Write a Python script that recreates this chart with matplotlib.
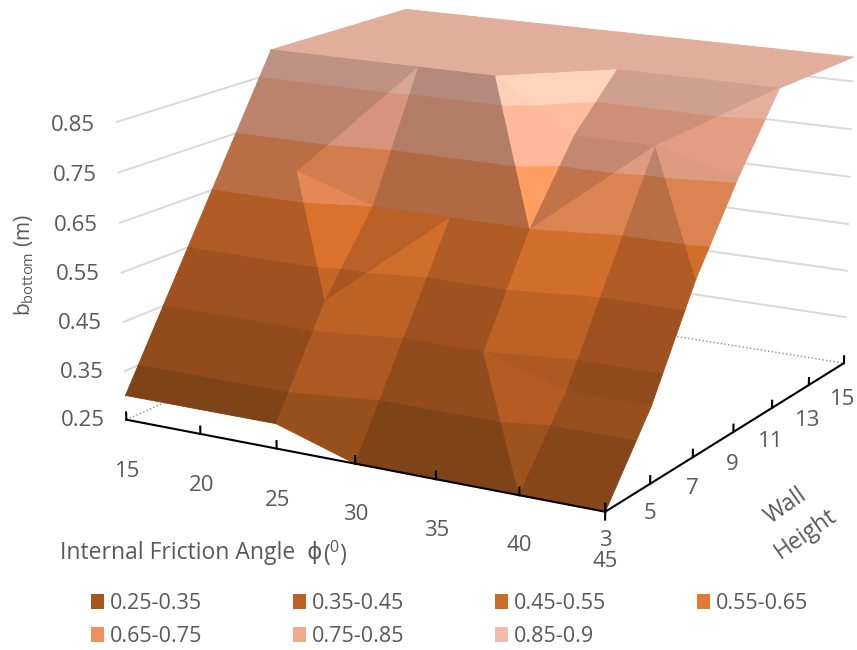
import numpy as np
import matplotlib
matplotlib.use("Agg")
import matplotlib.pyplot as plt
from matplotlib.colors import to_rgb
from matplotlib.patches import Patch
from mpl_toolkits.mplot3d import proj3d
from mpl_toolkits.mplot3d.art3d import Poly3DCollection

plt.rcParams["font.family"] = ["Open Sans", "DejaVu Sans"]
plt.rcParams["mathtext.default"] = "regular"

# ── Data ──────────────────────────────────────────────────────────────────────
phi_vals = [15, 20, 25, 30, 35, 40, 45]
height_vals = [3, 5, 7, 9, 11, 13, 15]
b_h3 = [0.30, 0.30, 0.30, 0.25, 0.25, 0.25, 0.25]
b_h5 = [0.50, 0.50, 0.50, 0.45, 0.45, 0.40, 0.40]
b_h7 = [0.70, 0.70, 0.65, 0.65, 0.65, 0.60, 0.60]
b_h9 = [0.90, 0.90, 0.90, 0.90, 0.80, 0.80, 0.76]
b_h11 = [0.90, 0.90, 0.90, 0.90, 0.90, 0.90, 0.90]
b_h13 = [0.90, 0.90, 0.90, 0.90, 0.90, 0.90, 0.90]
b_h15 = [0.90, 0.90, 0.90, 0.90, 0.90, 0.90, 0.90]
z_ticks = [0.25, 0.35, 0.45, 0.55, 0.65, 0.75, 0.85]
band_edges = [0.25, 0.35, 0.45, 0.55, 0.65, 0.75, 0.85, 0.90]
band_labels = ["0.25-0.35", "0.35-0.45", "0.45-0.55", "0.55-0.65",
               "0.65-0.75", "0.75-0.85", "0.85-0.9"]
band_colors = ["#A5571F", "#BE6124", "#CF6B28", "#E5782F",
               "#F08F5A", "#F3A98C", "#F5BDA9"]

TXT = "#595959"
W, H_PX = 857, 650

# ── Camera, fitted against the axis corners of the reference ──────────────────
ELEV, AZIM = 14.627, -59.946
BOX = np.array([1.7227, 1.7060, 1.0489])
S, LEFT, BOTTOM = 573.02, 201.40, 120.28

fig = plt.figure(figsize=(W / 100, H_PX / 100), dpi=100)
ax = fig.add_axes([LEFT / W, BOTTOM / H_PX, S / W, S / H_PX], projection="3d")
ax.computed_zorder = False
ax.set_axis_off()
ax.set_xticks([])
ax.set_yticks([])
ax.set_zticks([])
ax.set_xlim(15, 45, view_margin=0)
ax.set_ylim(3, 15, view_margin=0)
ax.set_zlim(0.25, 0.9, view_margin=0)
ax.set_box_aspect(BOX, zoom=np.linalg.norm(BOX) / (1.8294640721620434 * 25 / 24))
ax.view_init(elev=ELEV, azim=AZIM)
ax.patch.set_alpha(0)

b_grid = np.array([b_h3, b_h5, b_h7, b_h9, b_h11, b_h13, b_h15])


def clip_z(poly, level, keep_above):
    out = []
    for k in range(len(poly)):
        a, c = poly[k], poly[(k + 1) % len(poly)]
        a_in = a[2] >= level if keep_above else a[2] <= level
        c_in = c[2] >= level if keep_above else c[2] <= level
        if a_in:
            out.append(a)
        if a_in != c_in:
            t = (level - a[2]) / (c[2] - a[2])
            out.append(a + t * (c - a))
    return out


def shaded(color, tri):
    # facet shading, light comes from the high-phi side
    g = np.array([[t[0] / 5, t[1] / 2, t[2]] for t in tri])
    n = np.cross(g[1] - g[0], g[2] - g[0])
    gx, gy = -n[0] / n[2], -n[1] / n[2]
    f = min(max(0.92 - 0.75 * gy - 2.9 * gx, 0.55), 1.12)
    return tuple(np.clip(np.array(to_rgb(color)) * f, 0, 1))


def label3d(x, y, z, s, **kw):
    # plain 2D text placed at the projected position of a 3D point
    xs, ys, _ = proj3d.proj_transform(x, y, z, ax.get_proj())
    ax.text2D(xs, ys, s, transform=ax.transData, ha="center", va="center",
              color=TXT, fontsize=16, zorder=4, **kw)


polys, cols = [], []
for j in range(len(height_vals) - 1):
    for i in range(len(phi_vals) - 1):
        c00 = np.array([phi_vals[i], height_vals[j], b_grid[j, i]], float)
        c10 = np.array([phi_vals[i + 1], height_vals[j], b_grid[j, i + 1]], float)
        c01 = np.array([phi_vals[i], height_vals[j + 1], b_grid[j + 1, i]], float)
        c11 = np.array([phi_vals[i + 1], height_vals[j + 1], b_grid[j + 1, i + 1]], float)
        # fold the cell along the higher diagonal
        if c00[2] + c11[2] >= c10[2] + c01[2]:
            tris = [[c00, c10, c11], [c00, c11, c01]]
        else:
            tris = [[c00, c10, c01], [c10, c11, c01]]
        for tri in tris:
            for k, color in enumerate(band_colors):
                poly = clip_z(list(tri), band_edges[k], True)
                if len(poly) >= 3:
                    poly = clip_z(poly, band_edges[k + 1], False)
                if len(poly) >= 3:
                    polys.append(np.array(poly))
                    cols.append(shaded(color, tri))

# Walls
for z in z_ticks:
    style = dict(color="#D9D9D9", lw=1.4, zorder=1, clip_on=False)
    if z == z_ticks[0]:
        style = dict(color="#8C8C8C", lw=1.0, ls=":", zorder=1, clip_on=False)
    ax.plot([15, 15], [3, 15], [z, z], **style)
    ax.plot([15, 45], [15, 15], [z, z], **style)

surf = Poly3DCollection(polys, facecolors=cols, edgecolors=cols, linewidths=0.7, zorder=2)
surf.set_clip_on(False)
ax.add_collection3d(surf)

# Axes and ticks
axis_style = dict(color="black", lw=1.5, zorder=3, clip_on=False)
ax.plot([15, 45], [3, 3], [.25, .25], **axis_style)
ax.plot([45, 45], [3, 15], [.25, .25], **axis_style)
ax.plot([45, 45], [3, 3], [.235, .25], **axis_style)
for v in phi_vals:
    ax.plot([v, v], [3, 3], [.25, .265], **axis_style)
    label3d(v, 3, .142 + (v - 15) * .0004, str(v))
for v in height_vals:
    ax.plot([45, 45], [v, v], [.25, .265], **axis_style)
    label3d(45, v, .195 - (v - 3) * .002, str(v))
for z in z_ticks:
    label3d(12.0, 3, z - .019, f"{z:.2f}")

fig.text(24 / W, 1 - 265 / H_PX, r"b$_{bottom}$ (m)", rotation=90, ha="center", va="center",
         color=TXT, fontsize=15)
fig.text(60 / W, 1 - 553 / H_PX, "Internal Friction Angle  \u03d5", ha="left", va="center",
         color=TXT, fontsize=16.5)
fig.text(323 / W, 1 - 553 / H_PX, "($^{0}$)", ha="left", va="center", color=TXT, fontsize=16.5)
fig.text(796 / W, 1 - 520 / H_PX, "Wall\nHeight", rotation=35, ha="center", va="center",
         rotation_mode="anchor", color=TXT, fontsize=16.5, linespacing=1.6)

handles = [Patch(fc=c, ec="none", label=l) for c, l in zip(band_colors, band_labels)]
order = [0, 4, 1, 5, 2, 6, 3]
fig.legend([handles[i] for i in order], [band_labels[i] for i in order], ncol=4, frameon=False,
           loc="upper left", bbox_to_anchor=(91 / W, 1 - 593 / H_PX), borderpad=0, borderaxespad=0,
           fontsize=15.5, handlelength=0.6, handleheight=0.68, handletextpad=0.28,
           columnspacing=4.21, labelspacing=0.55, labelcolor=TXT)

fig.savefig("out.png", dpi=100, facecolor="white")
